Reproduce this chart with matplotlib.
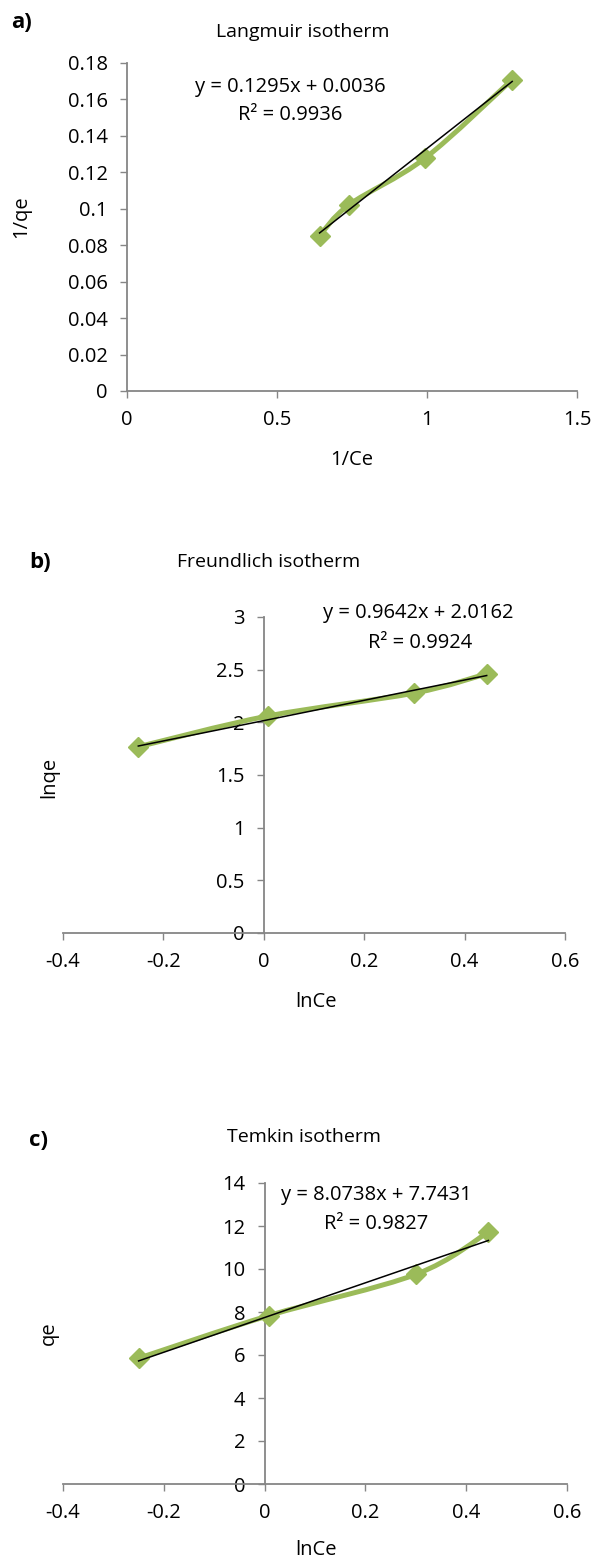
import matplotlib
matplotlib.use("Agg")
import numpy as np
import matplotlib.pyplot as plt
from matplotlib.path import Path
from matplotlib.patches import PathPatch
from matplotlib.transforms import Affine2D

plt.rcParams['font.family'] = ['Open Sans', 'DejaVu Sans']

# data
inv_ce = [0.642, 0.741, 0.992, 1.284]
inv_qe = [0.0853, 0.1023, 0.1276, 0.1709]

ln_ce = [-0.250, 0.008, 0.300, 0.444]
ln_qe = [1.768, 2.060, 2.278, 2.461]
qe = [5.85, 7.83, 9.75, 11.72]

# trendline equations printed on the chart
fit_a = (0.1295, 0.0036, "0.9936")
fit_b = (0.9642, 2.0162, "0.9924")
fit_c = (8.0738, 7.7431, "0.9827")

GREEN = '#9BBB59'
GREY = '#868686'
W, H = 594, 1560
FS = 14.5

fig = plt.figure(figsize=(W / 100, H / 100), dpi=100)
# pixel coordinates, origin top-left
pix = Affine2D().scale(1 / W, -1 / H).translate(0, 1) + fig.transFigure


def smooth_path(xs, ys):
    # Excel-like smoothed line (Catmull-Rom as cubic Bezier)
    p = np.column_stack([xs, ys])
    n = len(p)
    verts = [p[0]]
    codes = [Path.MOVETO]
    for i in range(n - 1):
        p0 = p[max(i - 1, 0)]
        p1 = p[i]
        p2 = p[i + 1]
        p3 = p[min(i + 2, n - 1)]
        verts += [p1 + (p2 - p0) / 6, p2 - (p3 - p1) / 6, p2]
        codes += [Path.CURVE4] * 3
    return Path(verts, codes)


def panel(rect_px, xs, ys, fit, xlim, xticks, ylim, yticks, yfmt, cross_zero):
    x0, y0, x1, y1 = rect_px
    ax = fig.add_axes([x0 / W, 1 - y1 / H, (x1 - x0) / W, (y1 - y0) / H])
    ax.set_xlim(*xlim)
    ax.set_ylim(*ylim)
    ax.set_xticks(xticks)
    ax.set_yticks(yticks)
    ax.set_xticklabels([f"{t:g}" for t in xticks])
    ax.set_yticklabels([yfmt(t) for t in yticks])
    for s in ['top', 'right']:
        ax.spines[s].set_visible(False)
    for s in ['left', 'bottom']:
        ax.spines[s].set_color(GREY)
        ax.spines[s].set_linewidth(1.3)
    if cross_zero:
        ax.spines['left'].set_position(('data', 0))
    ax.tick_params(direction='out', length=5, width=1, color=GREY,
                   labelsize=FS, pad=9, labelcolor='black')
    ax.patch.set_alpha(0)

    ax.add_patch(PathPatch(smooth_path(xs, ys), fill=False, edgecolor=GREEN,
                           lw=3.6, capstyle='round', joinstyle='round', zorder=3))
    ax.plot(xs, ys, linestyle='none', marker='D', ms=10.5, color=GREEN,
            mec=GREEN, zorder=4, clip_on=False)
    slope, icpt, r2 = fit
    xf = np.array([min(xs), max(xs)])
    ax.plot(xf, slope * xf + icpt, color='black', lw=1.1, zorder=5)
    return ax, f"y = {slope:.4f}x + {icpt:.4f}", f"R² = {r2}"


def txt(x, y, s, **kw):
    fig.text(x, y, s, transform=pix, ha='center', va='center', **kw)


# a) Langmuir
ax, eq, r2 = panel((127, 63, 577, 391), inv_ce, inv_qe, fit_a,
                   (0, 1.5), [0, 0.5, 1, 1.5], (0, 0.18),
                   np.arange(0, 0.181, 0.02), lambda t: f"{round(t, 2):g}", False)
txt(22, 23, "a)", fontsize=16, fontweight='bold')
txt(303, 32, "Langmuir isotherm", fontsize=14)
txt(290, 87, eq, fontsize=FS)
txt(290, 115, r2, fontsize=FS)
txt(21, 217, "1/qe", fontsize=FS, rotation=90)
txt(352, 460, "1/Ce", fontsize=FS)

# b) Freundlich
ax, eq, r2 = panel((63, 617, 565, 933), ln_ce, ln_qe, fit_b,
                   (-0.4, 0.6), [-0.4, -0.2, 0, 0.2, 0.4, 0.6], (0, 3),
                   [0, 0.5, 1, 1.5, 2, 2.5, 3], lambda t: f"{t:g}", True)
txt(40, 563, "b)", fontsize=16, fontweight='bold')
txt(269, 562, "Freundlich isotherm", fontsize=14)
txt(418, 613, eq, fontsize=FS)
txt(420, 643, r2, fontsize=FS)
txt(49, 777, "lnqe", fontsize=FS, rotation=90)
txt(316, 1002, "lnCe", fontsize=FS)

# c) Temkin
ax, eq, r2 = panel((63, 1183, 567, 1484), ln_ce, qe, fit_c,
                   (-0.4, 0.6), [-0.4, -0.2, 0, 0.2, 0.4, 0.6], (0, 14),
                   [0, 2, 4, 6, 8, 10, 12, 14], lambda t: f"{t:g}", True)
txt(38, 1140, "c)", fontsize=16, fontweight='bold')
txt(304, 1137, "Temkin isotherm", fontsize=14)
txt(376, 1195, eq, fontsize=FS)
txt(376, 1224, r2, fontsize=FS)
txt(49, 1333, "qe", fontsize=FS, rotation=90)
txt(316, 1550, "lnCe", fontsize=FS)

fig.savefig("out.png", dpi=100)
